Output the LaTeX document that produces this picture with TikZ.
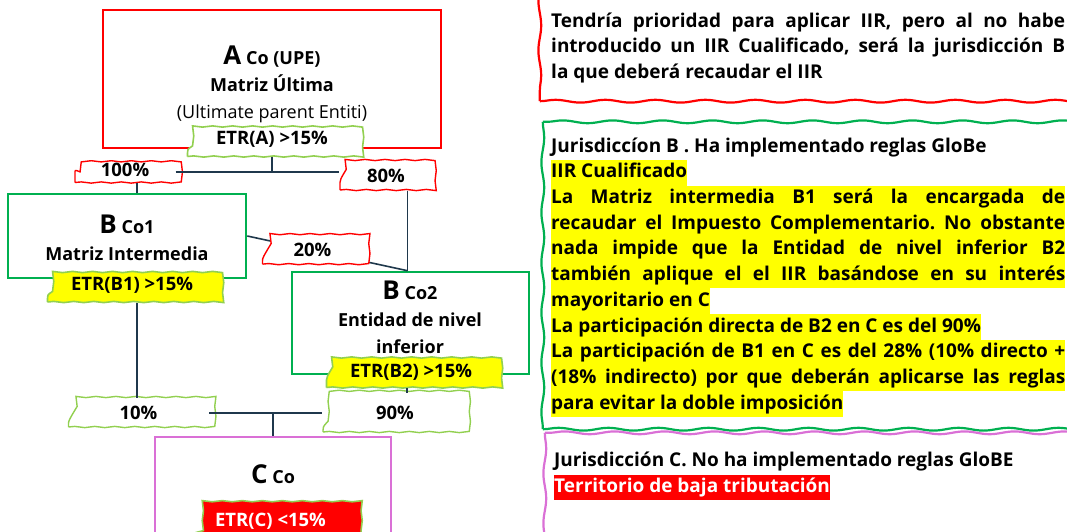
\documentclass[tikz,border=0pt]{standalone}
\usepackage{fontspec}
\setmainfont{Open Sans}
\usetikzlibrary{decorations.pathmorphing}

\definecolor{ared}{RGB}{255,0,0}
\definecolor{bgreen}{RGB}{0,176,80}
\definecolor{lgreen}{RGB}{146,208,80}
\definecolor{cviolet}{RGB}{218,112,214}
\definecolor{linkc}{RGB}{31,56,76}
\definecolor{hlyellow}{RGB}{255,255,0}

\newlength{\jwidth}
\setlength{\jwidth}{514pt}
\newcommand{\jl}[1]{\makebox[\jwidth][s]{\strut#1}}
\newcommand{\hly}[1]{{\setlength{\fboxsep}{0pt}\colorbox{hlyellow}{\strut#1}}}
\newcommand{\hlr}[1]{{\setlength{\fboxsep}{0pt}\colorbox{ared}{\strut\color{white}#1}}}
\newcommand{\ent}[1]{{\fontsize{26}{27}\selectfont #1}}

\tikzset{sketchy/.style={decorate, decoration={snake, amplitude=0.6pt, segment length=20pt}}}

\begin{document}
\begin{tikzpicture}[x=1pt, y=-1pt,
    entity/.style={draw, line width=2.6pt, inner sep=0pt},
    entname/.style={align=center, inner sep=0pt, anchor=north, font={\fontsize{18}{27}\selectfont\bfseries}},
    etr/.style={draw=lgreen, line width=1.6pt, fill=white, sketchy, minimum width=169pt, minimum height=34pt, inner sep=0pt, font={\fontsize{18.5}{20}\selectfont\bfseries}},
    pct/.style={draw=ared, line width=1.4pt, fill=white, sketchy, minimum height=26pt, inner sep=0pt, font={\fontsize{18.5}{20}\selectfont\bfseries}},
    conn/.style={draw=linkc, line width=1.6pt},
    jur/.style={minimum width=560pt, inner sep=0pt},
    jurline/.style={decorate, decoration={snake, amplitude=1.4pt, segment length=50pt}, line width=2.2pt},
    jurtext/.style={anchor=north west, inner sep=0pt, align=left, font={\fontsize{19}{25.7}\selectfont\bfseries\frenchspacing\lineskiplimit=-5pt}}]
\useasboundingbox (0,0) rectangle (1067,531);
\clip (0,0) rectangle (1067,531);

% entities
\node[entity, draw=ared, minimum width=338pt, minimum height=138pt] (A) at (272,79) {};
\node[entname] (Atxt) at (272,45.3) {\ent{A} Co (UPE)\\ Matriz Última\\ {\mdseries (Ultimate parent Entiti)}};
\node[entity, draw=bgreen, minimum width=238pt, minimum height=84pt] (B1) at (127,236) {};
\node[entname] (B1txt) at (127,214.6) {\ent{B} Co1\\ Matriz Intermedia};
\node[entity, draw=bgreen, minimum width=237pt, minimum height=102pt] (B2) at (410.5,323) {};
\node[entname] (B2txt) at (410,281) {\ent{B} Co2\\ Entidad de nivel\\ inferior};
\node[entity, draw=cviolet, minimum width=236pt, minimum height=130pt] (C) at (273,502) {};
\node[entname] (Ctxt) at (273,464.6) {\ent{C} Co};

% tipos efectivos
\node[etr] (etrA) at (272,139.5) {ETR(A) >15\%};
\node[etr, fill=hlyellow] (etrB1) at (132,285) {ETR(B1) >15\%};
\node[etr, fill=hlyellow, minimum height=31pt] (etrB2) at (411,372) {ETR(B2) >15\%};
\node[etr, fill=ared, text=white, minimum height=38pt] (etrC) at (270.5,521) {ETR(C) <15\%};

% participaciones
\node[pct, minimum width=100pt] (p100) at (125,169.5) {100\%};
\node[pct, minimum width=92pt, minimum height=28pt] (p80) at (386,176) {80\%};
\node[pct, draw=lgreen, minimum width=140pt, minimum height=28pt] (p10) at (138.5,413) {10\%};
\node[pct, draw=lgreen, minimum width=144pt, minimum height=38pt] (p90) at (395,413) {90\%};
\coordinate (ja) at (272,172);
\coordinate (jc) at (C.north |- p10.east);

\draw[conn] (etrA.south) -- (ja);
\draw[conn] (p100.east |- ja) -- (p80.west |- ja);
\draw[conn] ([xshift=10pt]B1.north |- p100.south) -- ([xshift=10pt]B1.north);
\draw[conn] ([xshift=-3pt]B2.north |- p80.south) -- ([xshift=-3pt]B2.north);
\draw[conn] (B1.east) -- node[pct, pos=0.407, minimum width=100pt, minimum height=28pt] (p20) {20\%} ([xshift=-3pt]B2.north);
\draw[conn] ([xshift=5pt]etrB1.south) -- ([xshift=5pt]etrB1.south |- p10.north);
\draw[conn] ([xshift=-4pt]etrB2.south) -- ([xshift=-4pt]etrB2.south |- p90.north);
\draw[conn] (p10.east) -- (p90.west);
\draw[conn] (jc) -- (C.north);

% jurisdicciones
\node[jur, minimum height=141pt] (jurA) at (820,30.5) {};
\draw[jurline, ared] (jurA.north west) -- (jurA.south west);
\draw[jurline, ared] (jurA.south west) -- (jurA.south east);
\node[jurtext] (jurAtxt) at (551,9) {\jl{Tendría prioridad para aplicar IIR, pero al no habe}\\
  \jl{introducido un IIR Cualificado, será la jurisdicción B}\\
  \strut la que deberá recaudar el IIR};
\node[jur, minimum height=307pt] (jurB) at (823,275.5) {};
\draw[jurline, bgreen] (jurB.north east) -- (jurB.north west);
\draw[jurline, bgreen] (jurB.north west) -- (jurB.south west);
\draw[jurline, bgreen] (jurB.south west) -- (jurB.south east);
\node[jurtext] (jurBtxt) at (551,134) {\strut Jurisdiccíon B . Ha implementado reglas GloBe\\
  \hly{IIR Cualificado}\\
  \hly{\jl{La Matriz intermedia B1 será la encargada de}}\\
  \hly{\jl{recaudar el Impuesto Complementario. No obstante}}\\
  \hly{\jl{nada impide que la Entidad de nivel inferior B2}}\\
  \hly{\jl{también aplique el el IIR basándose en su interés}}\\
  \hly{mayoritario en C}\\
  \hly{La participación directa de B2 en C es del 90\%}\\
  \hly{\jl{La participación de B1 en C es del 28\% (10\% directo +}}\\
  \hly{\jl{(18\% indirecto) por que deberán aplicarse las reglas}}\\
  \hly{para evitar la doble imposición}};
\node[jur, minimum height=140pt] (jurC) at (825,503) {};
\draw[jurline, cviolet] (jurC.north east) -- (jurC.north west);
\draw[jurline, cviolet] (jurC.north west) -- (jurC.south west);
\node[jurtext] (jurCtxt) at (554,448.6) {\strut Jurisdicción C. No ha implementado reglas GloBE\\
  \hlr{Territorio de baja tributación}};
\end{tikzpicture}
\end{document}
